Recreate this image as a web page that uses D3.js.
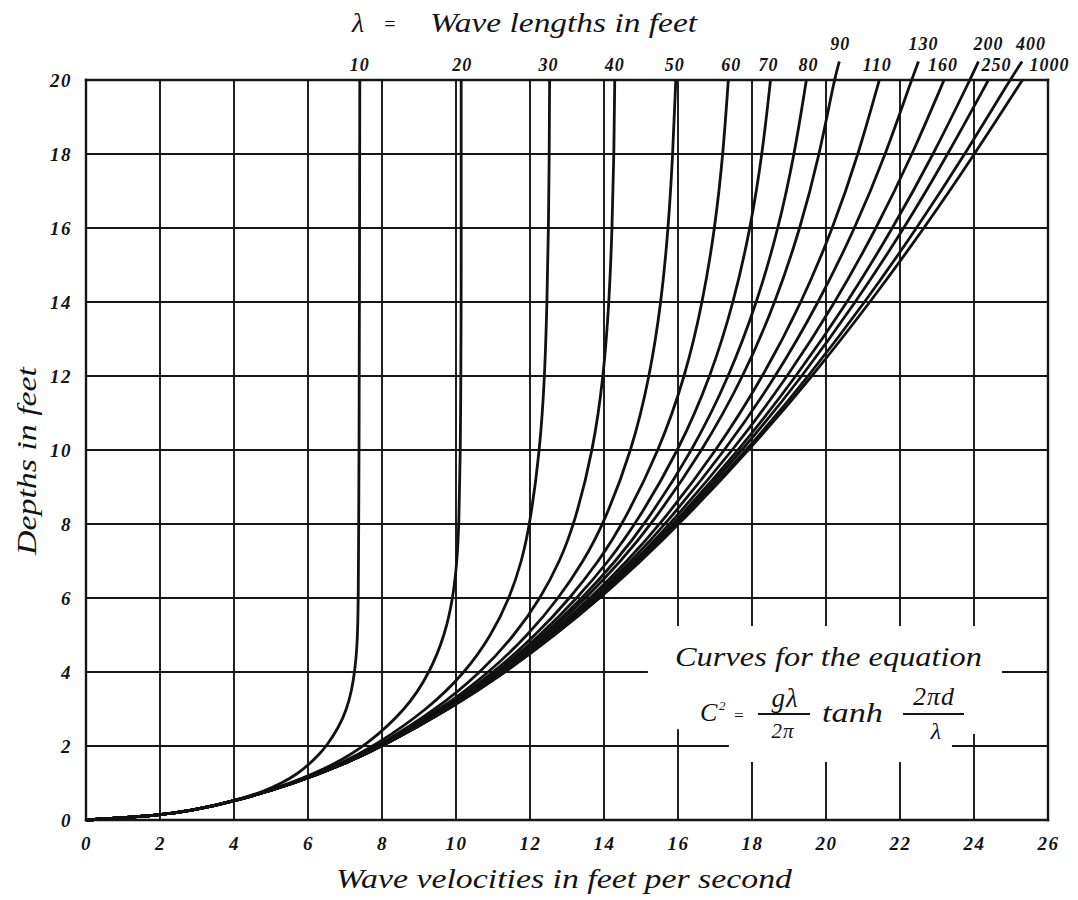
<!DOCTYPE html>
<html>
<head>
<meta charset="utf-8">
<script src="https://cdn.jsdelivr.net/npm/d3@7"></script>
<style>
html, body { margin: 0; padding: 0; background: #fff; }
svg { display: block; }
text { font-family: "Liberation Serif", "DejaVu Serif", serif; font-style: italic; fill: #141414; }
.num { font-weight: bold; }
</style>
</head>
<body>
<svg id="chart" width="1078" height="900"></svg>
<script>
// ---------------- DATA ----------------
const xTicks = [0, 2, 4, 6, 8, 10, 12, 14, 16, 18, 20, 22, 24, 26];   // wave velocity, ft/s
const yTicks = [0, 2, 4, 6, 8, 10, 12, 14, 16, 18, 20];               // depth, ft
const waveLengths = [10, 20, 30, 40, 50, 60, 70, 80, 90, 110, 130, 160, 200, 250, 400, 1000];

// depths (ft) at which velocities were read
const depths10 = [0, 0.125, 0.25, 0.5, 0.75, 1, 1.25, 1.5, 1.75, 2, 2.5, 3, 3.5, 4, 4.5, 5, 6, 8, 10, 14, 20];
const depths   = [0, 0.125, 0.25, 0.5, 1, 1.5, 2, 3, 4, 5, 6, 7, 8, 10, 12, 14, 16, 18, 20];

// velocities (ft/s) for each wave length
const v10   = [0, 2.0, 2.82, 3.95, 4.75, 5.3, 5.72, 6.02, 6.28, 6.5, 6.83, 7.05, 7.18, 7.26, 7.31, 7.34, 7.36, 7.37, 7.38, 7.39, 7.4];
const v20   = [0, 2.0, 2.84, 3.99, 5.58, 6.71, 7.55, 8.67, 9.3, 9.7, 9.92, 10.03, 10.08, 10.12, 10.13, 10.14, 10.14, 10.14, 10.14];
const v30   = [0, 2.0, 2.84, 4.0, 5.63, 6.84, 7.8, 9.25, 10.26, 10.96, 11.45, 11.78, 12.0, 12.27, 12.4, 12.46, 12.5, 12.52, 12.53];
const v40   = [0, 2.0, 2.84, 4.01, 5.65, 6.89, 7.9, 9.49, 10.68, 11.59, 12.29, 12.81, 13.2, 13.71, 13.99, 14.14, 14.22, 14.27, 14.29];
const v50   = [0, 2.0, 2.84, 4.01, 5.66, 6.91, 7.94, 9.61, 10.91, 11.95, 12.78, 13.45, 13.99, 14.76, 15.24, 15.55, 15.74, 15.86, 15.94];
const v60   = [0, 2.0, 2.84, 4.01, 5.66, 6.92, 7.97, 9.67, 11.04, 12.16, 13.09, 13.86, 14.51, 15.5, 16.2, 16.67, 17.0, 17.22, 17.36];
const v70   = [0, 2.0, 2.84, 4.01, 5.67, 6.93, 7.98, 9.71, 11.12, 12.29, 13.28, 14.13, 14.86, 16.03, 16.89, 17.51, 17.96, 18.28, 18.5];
const v80   = [0, 2.0, 2.84, 4.01, 5.67, 6.93, 7.99, 9.74, 11.17, 12.38, 13.42, 14.32, 15.11, 16.41, 17.39, 18.14, 18.72, 19.15, 19.47];
const v90   = [0, 2.0, 2.84, 4.01, 5.67, 6.94, 8.0, 9.76, 11.21, 12.44, 13.52, 14.46, 15.29, 16.68, 17.78, 18.64, 19.31, 19.83, 20.22];
const v110  = [0, 2.0, 2.84, 4.01, 5.67, 6.94, 8.01, 9.78, 11.25, 12.52, 13.64, 14.63, 15.53, 17.06, 18.31, 19.35, 20.19, 20.88, 21.44];
const v130  = [0, 2.0, 2.84, 4.01, 5.67, 6.94, 8.01, 9.79, 11.28, 12.57, 13.71, 14.74, 15.67, 17.29, 18.66, 19.81, 20.79, 21.62, 22.31];
const v160  = [0, 2.0, 2.84, 4.01, 5.67, 6.95, 8.02, 9.81, 11.3, 12.61, 13.77, 14.83, 15.79, 17.5, 18.98, 20.26, 21.37, 22.34, 23.19];
const v200  = [0, 2.0, 2.84, 4.01, 5.67, 6.95, 8.02, 9.81, 11.32, 12.64, 13.82, 14.89, 15.88, 17.66, 19.21, 20.59, 21.81, 22.91, 23.89];
const v250  = [0, 2.0, 2.84, 4.01, 5.67, 6.95, 8.02, 9.82, 11.33, 12.66, 13.85, 14.94, 15.94, 17.76, 19.37, 20.81, 22.12, 23.3, 24.39];
const v400  = [0, 2.0, 2.84, 4.01, 5.67, 6.95, 8.02, 9.83, 11.34, 12.68, 13.88, 14.98, 16.01, 17.87, 19.54, 21.06, 22.46, 23.76, 24.97];
const v1000 = [0, 2.0, 2.84, 4.01, 5.67, 6.95, 8.02, 9.83, 11.35, 12.68, 13.9, 15.0, 16.04, 17.93, 19.64, 21.2, 22.66, 24.02, 25.31];

// leader strokes that run past the top edge up to the raised labels
const leaderWaves = [90, 130, 200, 400];
const leaderDepth = 20.5;
const leaderVelocities = [20.36, 22.5, 24.12, 25.3];

// ---------------- LAYOUT ----------------
const W = 1078, H = 900;
const svg = d3.select('#chart');
svg.append('rect').attr('width', W).attr('height', H).attr('fill', '#fff');

const x = d3.scaleLinear().domain([0, 26]).range([86, 1048]);
const y = d3.scaleLinear().domain([0, 20]).range([820, 80]);

const velocityLists = [v10, v20, v30, v40, v50, v60, v70, v80, v90, v110, v130, v160, v200, v250, v400, v1000];
const series = waveLengths.map((lam, i) => {
  const ds = lam === 10 ? depths10 : depths;
  const pts = velocityLists[i].map((v, j) => ({ v, d: ds[j] }));
  const li = leaderWaves.indexOf(lam);
  if (li >= 0) pts.push({ v: leaderVelocities[li], d: leaderDepth });
  return { lam, pts, raised: li >= 0 };
});

// grid with the gaps left around the equation
const hGaps = { 4: [[0, 15.16], [24.78, 26]], 2: [[0, 17.35], [23.43, 26]] };
const vGaps = {
  16: [[0, 2.43], [5.27, 20]],
  18: [[0, 1.54], [5.27, 20]],
  20: [[0, 1.54], [5.27, 20]],
  22: [[0, 1.54], [5.27, 20]],
  24: [[0, 2.3], [5.27, 20]]
};
const grid = svg.append('g').attr('stroke', '#161616').attr('fill', 'none').attr('stroke-linecap', 'square');
yTicks.forEach(t => {
  (hGaps[t] || [[0, 26]]).forEach(r => {
    grid.append('line').attr('x1', x(r[0])).attr('x2', x(r[1])).attr('y1', y(t)).attr('y2', y(t))
      .attr('stroke-width', (t === 0 || t === 20) ? 2.4 : 1.9);
  });
});
xTicks.forEach(t => {
  (vGaps[t] || [[0, 20]]).forEach(r => {
    grid.append('line').attr('x1', x(t)).attr('x2', x(t)).attr('y1', y(r[0])).attr('y2', y(r[1]))
      .attr('stroke-width', (t === 0 || t === 26) ? 2.4 : 1.9);
  });
});

// curves
const line = d3.line().x(p => x(p.v)).y(p => y(p.d)).curve(d3.curveBasis);
svg.append('g').selectAll('path').data(series).join('path')
  .attr('d', s => line(s.pts))
  .attr('fill', 'none').attr('stroke', '#111').attr('stroke-width', 2.8)
  .attr('stroke-linejoin', 'round').attr('stroke-linecap', 'butt');

// curve labels
const labelNudge = { 10: 0, 20: 1, 30: -1, 40: 0, 50: -1, 60: 3, 70: -2, 80: 2, 90: 1, 110: -2, 130: 5, 160: -1, 200: 10, 250: 8, 400: 9, 1000: 27 };
svg.append('g').selectAll('text').data(series).join('text')
  .attr('class', 'num')
  .attr('x', s => x(s.pts[s.pts.length - 1].v) + labelNudge[s.lam])
  .attr('y', s => s.raised ? 50 : 71)
  .attr('text-anchor', 'middle').attr('font-size', 18).attr('letter-spacing', 1)
  .text(s => s.lam);

// axes (tick labels only)
const xAxis = d3.axisBottom(x).tickValues(xTicks).tickSize(0).tickPadding(17).tickFormat(d3.format('d'));
const gx = svg.append('g').attr('transform', `translate(0,${y(0)})`).call(xAxis);
const yAxis = d3.axisLeft(y).tickValues(yTicks).tickSize(0).tickPadding(14).tickFormat(d3.format('d'));
const gy = svg.append('g').attr('transform', `translate(${x(0)},0)`).call(yAxis);
[gx, gy].forEach(g => {
  g.select('.domain').remove();
  g.selectAll('text').attr('class', 'num').attr('font-size', 19).attr('letter-spacing', 1.5)
    .attr('font-family', '"Liberation Serif", serif').attr('font-style', 'italic').attr('fill', '#141414');
});

// titles
const title = svg.append('g');
title.append('text').attr('x', 352).attr('y', 32).attr('font-size', 28).text('λ');
title.append('text').attr('x', 383).attr('y', 31).attr('font-size', 20).text('=');
title.append('text').attr('x', 430).attr('y', 32).attr('font-size', 28)
  .attr('textLength', 267).attr('lengthAdjust', 'spacingAndGlyphs').text('Wave lengths in feet');
svg.append('text').attr('x', 336).attr('y', 888).attr('font-size', 28)
  .attr('textLength', 456).attr('lengthAdjust', 'spacingAndGlyphs').text('Wave velocities in feet per second');
svg.append('text').attr('transform', 'translate(36,555) rotate(-90)').attr('font-size', 28)
  .attr('textLength', 188).attr('lengthAdjust', 'spacingAndGlyphs').text('Depths in feet');

// equation block
const eq = svg.append('g');
eq.append('text').attr('x', 675).attr('y', 666).attr('font-size', 28)
  .attr('textLength', 307).attr('lengthAdjust', 'spacingAndGlyphs').text('Curves for the equation');
eq.append('text').attr('x', 700).attr('y', 721).attr('font-size', 26).text('C');
eq.append('text').attr('x', 719).attr('y', 710).attr('font-size', 13).text('2');
eq.append('text').attr('x', 733).attr('y', 721).attr('font-size', 17).text('=');
eq.append('text').attr('x', 785).attr('y', 707).attr('text-anchor', 'middle').attr('font-size', 27)
  .attr('letter-spacing', 1).text('gλ');
eq.append('line').attr('x1', 758).attr('x2', 810).attr('y1', 714).attr('y2', 714).attr('stroke', '#141414').attr('stroke-width', 2);
eq.append('text').attr('x', 783).attr('y', 738).attr('text-anchor', 'middle').attr('font-size', 21)
  .attr('letter-spacing', 1).text('2π');
eq.append('text').attr('x', 822).attr('y', 722).attr('font-size', 27)
  .attr('textLength', 61).attr('lengthAdjust', 'spacingAndGlyphs').text('tanh');
eq.append('text').attr('x', 934).attr('y', 705).attr('text-anchor', 'middle').attr('font-size', 26)
  .attr('letter-spacing', 1).text('2πd');
eq.append('line').attr('x1', 903).attr('x2', 964).attr('y1', 714).attr('y2', 714).attr('stroke', '#141414').attr('stroke-width', 2);
eq.append('text').attr('x', 936).attr('y', 739).attr('text-anchor', 'middle').attr('font-size', 24).text('λ');
</script>
</body>
</html>
